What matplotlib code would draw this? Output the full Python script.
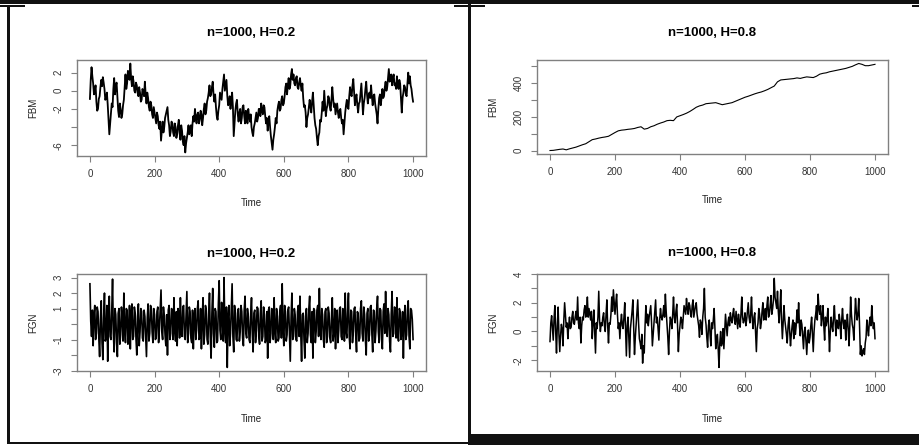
import matplotlib
matplotlib.use("Agg")
import matplotlib.pyplot as plt
from matplotlib.patches import Rectangle
import numpy as np

plt.rcParams['font.family'] = ['Liberation Sans', 'DejaVu Sans']

W, H = 919, 445

# values
# FBM, H=0.2 : readings at t = 0, 5, ..., 1000
fbm_low = [
    -0.9, 2.6, 0.8, 0.0, -1.2, -2.0, -0.6, 1.2, 1.5, 0.2,
    -0.8, -1.5, -4.8, -2.5, -1.8, 1.4, 0.5, -0.6, -2.9, -2.0,
    -2.6, -1.0, 1.8, 0.8, 2.0, 3.0, 0.5, 1.0, -0.2, 0.6,
    -0.6, -0.2, -1.0, 0.0, 1.0, -1.4, -0.8, -2.2, -1.6, -3.0,
    -2.4, -3.6, -2.8, -4.2, -5.5, -3.4, -4.0, -2.6, -1.8, -3.8,
    -4.5, -3.6, -5.0, -4.0, -4.8, -3.2, -5.4, -4.4, -6.0, -6.8,
    -5.2, -3.8, -4.4, -5.0, -2.8, -2.0, -3.6, -2.4, -3.2, -2.6,
    -3.0, -1.4, -2.2, -0.8, 0.6, -0.4, 1.0, -1.2, -1.8, -3.2,
    -1.6, -0.6, 0.2, 1.8, 0.6, -0.5, -1.4, -2.0, -0.2, -5.0,
    -2.2, -1.0, -3.4, -2.0, -3.0, -1.6, -3.6, -2.8, -2.0, -3.4,
    -4.0, -5.0, -3.6, -2.4, -3.0, -2.0, -1.4, -2.6, -1.8, -3.6,
    -4.4, -2.8, -5.0, -6.5, -4.8, -3.0, -2.2, -1.2, -2.0, -0.6,
    -1.4, 0.4, -0.4, 1.4, 0.6, 2.4, 1.8, 0.6, 1.6, 0.2,
    1.4, 0.0, -0.8, -1.6, -4.0, -2.6, -1.0, -2.4, -0.2, -3.0,
    -4.2, -6.0, -4.6, -3.4, -1.2, 0.0, -2.8, -1.6, -0.8, -2.2,
    0.4, -1.8, -2.6, -1.4, -3.0, -2.0, -3.6, -4.8, -2.4, -1.0,
    -2.0, 0.4, -0.6, 1.3, -1.6, -0.4, -2.4, -1.2, 0.8, -2.6,
    -0.8, 1.0, -1.4, -0.2, 0.6, -1.6, -0.4, -2.0, -3.6, -0.8,
    -1.6, 0.2, -0.6, 1.0, 0.4, 2.4, 1.2, 0.6, 1.8, 0.8,
    1.6, 0.2, 0.8, -2.4, -0.2, 0.4, -0.6, 2.0, 1.6, 0.2,
    -1.2,
]
# FBM, H=0.2 : readings at t = 2.5, 7.5, ..., 997.5
fbm_low_mid = [
    1.2, 1.6, -0.4, 0.6, -2.2, -0.9, 0.4, 0.5, 0.9, -1.0,
    -0.2, -3.2, -3.6, -1.4, 0.2, -0.4, 0.9, -2.2, -1.4, -3.0,
    -1.6, 0.4, 0.2, 2.2, 1.2, 1.4, 1.6, 0.0, 0.9, -0.2,
    0.4, -1.2, 0.2, -0.6, -0.4, -0.2, -1.8, -1.2, -2.6, -1.8,
    -3.0, -2.4, -3.8, -3.4, -4.4, -4.6, -3.0, -2.2, -3.2, -5.0,
    -3.4, -4.6, -3.6, -5.2, -3.8, -4.6, -3.8, -5.6, -5.0, -5.8,
    -4.6, -4.8, -3.8, -3.6, -3.4, -3.0, -2.6, -3.6, -2.2, -3.8,
    -2.0, -2.6, -1.2, -0.2, -0.6, 0.4, -0.4, -0.4, -2.8, -2.2,
    -0.2, -1.0, 1.0, 0.0, 1.2, -1.6, -0.6, -1.0, -1.8, -3.6,
    -1.4, -2.6, -2.4, -3.6, -1.8, -2.8, -2.2, -3.6, -2.8, -2.6,
    -4.6, -4.0, -3.0, -3.4, -2.0, -2.8, -2.2, -1.6, -2.8, -3.0,
    -3.4, -4.0, -5.8, -5.4, -4.0, -3.6, -1.6, -2.2, -1.0, -1.6,
    -0.6, 0.8, 0.6, 0.2, 1.8, 1.2, 0.8, 1.4, 0.4, 0.9,
    0.6, 0.8, -1.8, -2.4, -3.0, -1.8, -1.8, -1.2, -1.6, -3.8,
    -5.2, -5.0, -3.2, -2.4, -2.2, -1.4, -2.0, -0.6, -1.8, -1.0,
    -0.8, -1.4, -2.0, -2.4, -2.2, -3.0, -3.2, -3.6, -1.6, -1.8,
    -0.6, -0.4, 0.6, -0.2, -0.8, -1.6, -1.4, -0.2, -1.0, -1.4,
    0.2, -0.4, -0.6, -0.8, -0.6, -0.6, -1.4, -2.6, -2.0, -0.4,
    -0.8, -0.8, 0.4, 0.0, 1.4, 1.0, 1.8, 1.4, 0.6, 0.2,
    0.6, 1.2, -0.8, -0.8, 0.6, -0.4, 0.8, 0.8, 0.6, -0.6,
]

# FBM, H=0.8 : readings at t = 0, 10, ..., 1000
fbm_high = [
    0, 1, 4, 7, 9, 4, 10, 15, 20, 27,
    34, 40, 52, 64, 68, 73, 77, 80, 84, 95,
    106, 116, 120, 122, 125, 127, 130, 136, 140, 126,
    130, 140, 146, 155, 162, 168, 176, 178, 176, 198,
    205, 212, 220, 230, 242, 255, 263, 268, 276, 278,
    280, 282, 276, 270, 274, 278, 282, 290, 298, 306,
    314, 320, 327, 334, 340, 345, 352, 360, 370, 380,
    405, 416, 418, 420, 422, 424, 428, 425, 430, 434,
    432, 430, 438, 450, 455, 458, 464, 468, 472, 476,
    480, 484, 490, 496, 505, 513, 508, 500, 500, 504,
    508,
]

# FGN, H=0.2 : readings at t = 0, 5, ..., 1000
fgn_low = [
    2.6, -0.8, -1.4, 1.2, -0.6, 0.8, -2.1, 1.5, -2.3, 2.0,
    -0.9, -2.4, 1.8, -1.0, 2.9, -1.8, 0.6, -2.1, 1.0, -0.7,
    0.4, 2.0, -1.2, 0.9, -0.4, -1.6, 1.3, -0.8, 0.7, -2.0,
    1.3, -0.5, 0.8, -1.1, 0.5, -2.1, 1.3, -0.6, 1.0, -1.2,
    0.6, -0.9, 1.1, -0.3, 2.2, -1.0, 0.5, -1.4, -2.0, 1.2,
    -0.6, 0.9, 1.7, -1.1, -1.4, 0.7, 1.7, -0.8, 1.2, -1.0,
    2.1, -0.6, 0.8, -1.2, -1.6, 1.0, -0.4, 1.5, -0.9, -1.6,
    1.7, -0.7, 0.9, -1.3, 2.0, -2.2, 2.3, -1.5, 0.8, -1.1,
    2.8, -1.0, 0.6, 3.0, -1.2, -2.8, 1.2, -0.6, 2.6, -1.8,
    0.7, -1.1, 1.0, -0.5, 0.8, -1.4, 1.8, -0.9, 0.5, -1.2,
    1.7, -1.8, 0.9, -0.4, 1.0, -1.3, 1.5, -0.8, 0.6, -1.0,
    -2.2, 1.1, -0.6, 0.9, 1.7, -1.2, 0.5, -0.9, 1.2, 2.6,
    -1.4, 0.8, -0.7, 1.1, -2.4, 2.0, -0.8, 0.6, -1.1, 1.2,
    1.8, -2.4, 0.7, -2.2, 1.0, -0.6, 1.8, -1.2, -2.2, 0.9,
    -0.5, 1.2, 2.3, -1.0, 0.6, -1.5, 1.0, -0.8, 0.7, -1.2,
    1.7, -0.6, -1.6, 0.9, -0.4, 1.1, -1.0, 0.6, 2.0, -0.9,
    2.0, -1.6, 0.8, -0.5, 1.1, -1.8, 0.7, -0.9, 1.5, -1.1,
    0.6, -2.0, 1.0, -0.7, 1.2, -1.8, 0.8, -0.4, 1.8, -1.2,
    0.9, -1.6, 1.3, 2.1, -0.8, 0.6, -1.8, 2.1, -0.6, 1.0,
    1.7, -1.1, 0.8, -0.5, -2.2, 1.2, -0.7, 1.5, -1.6, 0.9,
    -1.0,
]
# FGN, H=0.2 : readings at t = 2.5, 7.5, ..., 997.5
fgn_low_mid = [
    0.2, 0.9, 0.6, -1.0, 1.1, -0.9, 0.3, -1.2, 0.4, -1.1,
    1.2, 0.3, -0.8, 0.8, -0.6, 1.0, -1.2, 0.7, -1.3, 1.1,
    -1.1, -0.3, 1.0, -1.3, 1.2, 0.6, -1.0, 1.1, -0.9, 0.5,
    -1.4, 1.0, -0.9, 0.9, -0.8, 0.4, -1.1, 1.2, -0.5, 1.0,
    -1.0, 0.8, -1.2, 1.0, -0.5, 1.1, -0.7, 0.6, 0.9, -1.0,
    1.0, -1.0, -0.4, 0.8, 1.0, -0.9, -0.6, 1.1, -0.8, 0.5,
    -1.2, 1.1, -0.9, 0.9, 0.4, -1.0, 1.0, -1.0, 1.0, 0.3,
    -1.3, 1.2, -1.0, 0.6, -0.8, 0.7, -0.6, 1.0, -1.2, 1.3,
    -0.4, 1.4, -1.1, -0.5, 1.1, 0.4, -1.4, 1.0, -0.8, 1.2,
    -1.0, 0.9, -1.1, 1.2, -0.9, 0.9, -0.6, 1.0, -1.0, 0.6,
    -0.6, 0.7, -1.2, 1.1, -0.8, 0.7, -1.1, 1.1, -1.2, 0.8,
    0.9, -1.2, 1.0, -1.0, -0.5, 1.0, -1.1, 0.8, -0.9, -0.3,
    1.2, -1.1, 0.9, -0.6, 0.4, -1.0, 1.0, -1.0, 0.8, -0.8,
    -0.6, 0.6, -1.0, 0.5, -1.2, 1.0, -0.7, 0.8, 1.0, -1.2,
    0.9, -0.8, -0.4, 1.0, -1.0, 0.8, -1.2, 1.1, -0.9, 0.4,
    -1.1, 1.0, 0.2, -1.2, 1.0, -0.8, 1.0, -1.1, -0.5, 0.8,
    -0.8, 0.9, -1.2, 1.0, -0.7, 0.8, -1.1, 1.0, -0.6, 1.1,
    -1.0, 0.7, -1.1, 1.1, -0.6, 0.9, -1.2, 1.0, -0.5, 1.0,
    -1.0, 0.8, -0.6, -0.3, 1.0, -1.1, 0.7, -0.8, 1.1, -0.9,
    -0.7, 1.0, -1.0, 0.8, 0.4, -1.0, 0.9, -0.8, 1.0, 0.3,
]

# FGN, H=0.8 : readings at t = 0, 5, ..., 1000
fgn_high = [
    -0.7, 1.1, -0.6, 1.8, -1.5, 1.7, -1.4, 0.5, -1.0, 2.0,
    0.3, -0.5, 1.0, 0.3, 1.4, 0.5, 1.4, 2.4, 0.2, -0.8,
    1.0, 1.5, 1.0, 2.4, 1.6, 0.8, -0.5, 1.5, -1.5, 0.2,
    2.8, 0.0, 0.4, 1.3, 0.0, 2.2, -0.8, 0.5, 2.4, 2.9,
    1.2, 2.6, 0.2, -0.5, 1.2, 0.2, 2.0, -1.7, 1.0, -1.8,
    0.8, 2.2, -1.6, 0.5, 2.2, -0.5, -1.2, -2.2, -1.5, 1.8,
    1.2, 1.0, 1.8, -1.0, 0.5, 2.2, 1.0, -0.6, 1.6, 0.8,
    1.8, 2.6, 0.5, -1.6, 1.0, 0.2, 2.4, 0.6, 1.9, -1.4,
    0.4, 0.8, 1.0, 1.5, 2.3, 1.2, 1.8, 1.0, 2.2, 1.4,
    2.0, 0.8, -0.4, 0.6, 1.0, 3.0, 0.5, -1.1, 0.8, -1.0,
    0.2, 1.6, -1.2, -0.2, -2.5, 0.0, -0.8, -1.2, 1.2, -0.3,
    1.0, 1.3, 0.6, 1.6, 0.5, 0.8, 1.2, 0.3, 2.4, 0.6,
    1.3, 0.8, 2.0, 0.6, 2.4, 0.2, 1.3, -1.4, 0.6, 1.2,
    0.6, 2.0, 1.0, 0.8, 2.4, 1.2, 2.5, 1.6, 3.7, 2.0,
    2.8, 0.6, 2.9, -0.5, 1.8, 0.3, -0.8, 1.0, -1.0, 0.4,
    -0.5, -0.2, 1.5, 2.0, -0.3, 0.5, -1.2, 0.3, -1.6, 0.1,
    -0.4, 1.0, -1.4, 0.8, 1.8, 2.6, 1.2, 0.4, 1.8, -0.6,
    0.4, 1.6, -1.4, 1.0, 0.0, 1.8, -0.3, 0.4, 1.2, -0.5,
    1.6, 0.2, -0.6, 1.2, -1.0, 2.4, 0.5, -0.6, 2.3, 0.8,
    2.3, -1.6, -1.7, -1.2, -0.8, 0.8, -0.3, 1.0, 1.8, 0.2,
    -0.5,
]
# FGN, H=0.8 : readings at t = 2.5, 7.5, ..., 997.5
fgn_high_mid = [
    0.6, 0.2, 0.9, 0.0, 0.4, -0.2, -0.3, 0.2, 0.8, 1.2,
    0.6, 0.4, 0.2, 1.0, 0.6, 1.0, 0.8, 0.6, 1.0, 0.4,
    0.8, 1.8, 1.4, 1.0, 1.2, 1.4, 0.6, 0.0, 0.6, 1.0,
    0.8, 0.6, 1.0, 0.4, 1.2, 0.4, 0.6, 1.2, 1.4, 2.0,
    2.0, 1.2, 0.6, 0.6, 0.4, 1.0, 0.2, 0.4, -0.4, 0.2,
    1.4, 0.2, -0.4, 1.4, 0.6, -0.8, -0.2, -1.0, 0.4, 0.6,
    0.4, 1.4, 0.6, -0.2, 1.4, 0.6, 0.2, 0.8, 1.0, 1.2,
    1.0, 1.4, -0.4, 0.0, 0.8, 1.2, 1.0, 1.4, 0.4, -0.2,
    1.0, 0.2, 1.8, 1.2, 1.6, 2.0, 1.2, 1.8, 1.0, 1.8,
    1.2, 0.4, 0.8, -0.2, 1.6, 1.0, -0.4, 0.4, -0.2, 0.6,
    0.8, 0.2, -0.6, -1.2, -0.8, -1.0, 0.2, 0.0, 0.4, 0.6,
    0.4, 0.8, 1.2, 0.8, 1.4, 0.2, 0.6, 1.2, 1.0, 0.8,
    0.4, 1.4, 1.0, 1.2, 0.8, 1.0, 0.0, 0.2, 1.6, 0.2,
    1.4, 0.8, 1.6, 1.8, 1.0, 1.8, 1.2, 2.2, 2.4, 1.6,
    1.4, 1.6, 0.8, 0.6, 0.8, -0.2, 0.4, 0.0, -0.2, 0.8,
    0.6, 0.4, 0.6, 0.4, 0.8, -0.4, 0.0, -0.6, -0.4, -0.8,
    0.4, -0.2, 0.0, 1.2, 0.8, 1.6, 1.8, 1.0, 0.4, 1.0,
    0.8, 0.2, 0.0, 0.4, 1.0, 0.6, 0.8, 0.2, 0.6, 0.8,
    0.6, 0.8, 0.4, 0.2, 0.4, 1.2, 0.2, 0.8, 1.4, 1.2,
    0.4, -1.0, -1.4, -1.6, -0.4, 0.2, 0.6, 0.4, 0.8, 0.6,
]

xticks = [0, 200, 400, 600, 800, 1000]


def merge(on_step, mid_step):
    # put the half-step readings between the whole-step ones
    out = np.empty(len(on_step) + len(mid_step))
    out[0::2] = on_step
    out[1::2] = mid_step
    return out


def px_rect(x0, y0, x1, y1):
    return [x0 / W, 1 - y1 / H, (x1 - x0) / W, (y1 - y0) / H]


def panel(fig, rect, values, ylabel, yticks, ylabels, title, title_y, lw):
    ax = fig.add_axes(px_rect(*rect))
    t = np.linspace(0, 1000, len(values))
    ax.plot(t, values, color='black', lw=lw)
    lo, hi = min(values), max(values)
    pad = 0.04 * (hi - lo)
    ax.set_ylim(lo - pad, hi + pad)
    ax.set_xlim(-40, 1040)
    ax.set_xticks(xticks)
    ax.set_xticklabels([str(v) for v in xticks])
    ax.set_yticks(yticks)
    ax.set_yticklabels(ylabels, rotation=90, va='center')
    for s in ax.spines.values():
        s.set_color('#808080')
        s.set_linewidth(1.0)
    ax.tick_params(direction='out', length=4, width=0.8, color='#808080',
                   labelsize=7, labelcolor='#333333', pad=5.5)
    ax.set_xlabel('Time', fontsize=7, color='#222222')
    ax.xaxis.set_label_coords(0.5, -0.49)
    ax.xaxis.label.set_va('center')
    ax.set_ylabel(ylabel, fontsize=7, color='#222222')
    ax.yaxis.set_label_coords(-0.126, 0.5)
    ax.yaxis.label.set_va('center')
    ax.text(0.5, title_y, title, transform=ax.transAxes, ha='center',
            va='center', fontsize=9.5, fontweight='bold')
    return ax


fig = plt.figure(figsize=(W / 100, H / 100), dpi=100)

panel(fig, (77, 60, 426, 156), merge(fbm_low, fbm_low_mid), 'FBM',
      [-6, -4, -2, 0, 2], ['-6', '', '-2', '0', '2'],
      'n=1000, H=0.2', 1.28, 1.3)
panel(fig, (537, 60, 888, 154), fbm_high, 'FBM',
      [0, 100, 200, 300, 400, 500], ['0', '', '200', '', '400', ''],
      'n=1000, H=0.8', 1.29, 0.8)
panel(fig, (77, 274, 426, 371), merge(fgn_low, fgn_low_mid), 'FGN',
      [-3, -2, -1, 0, 1, 2, 3], ['-3', '', '-1', '', '1', '2', '3'],
      'n=1000, H=0.2', 1.21, 1.2)
panel(fig, (537, 274, 888, 371), merge(fgn_high, fgn_high_mid), 'FGN',
      [-2, -1, 0, 1, 2, 3, 4], ['-2', '', '0', '', '2', '', '4'],
      'n=1000, H=0.8', 1.22, 1.1)

# window frames around the two screenshots
frame = [
    (0, 0, 919, 4),       # top bar
    (0, 5, 25, 6.5),
    (454, 5, 485, 6.5),
    (912, 5, 919, 6.5),
    (7, 5, 9.5, 444),     # left border
    (7, 441.5, 468, 444), # left bottom
    (467.5, 4, 471, 445), # divider
    (467.5, 433.5, 919, 445),  # right bottom bar
]
for x0, y0, x1, y1 in frame:
    fig.add_artist(Rectangle((x0 / W, 1 - y1 / H), (x1 - x0) / W, (y1 - y0) / H,
                             transform=fig.transFigure, color='#111111', lw=0))

fig.savefig('out.png', dpi=100)
